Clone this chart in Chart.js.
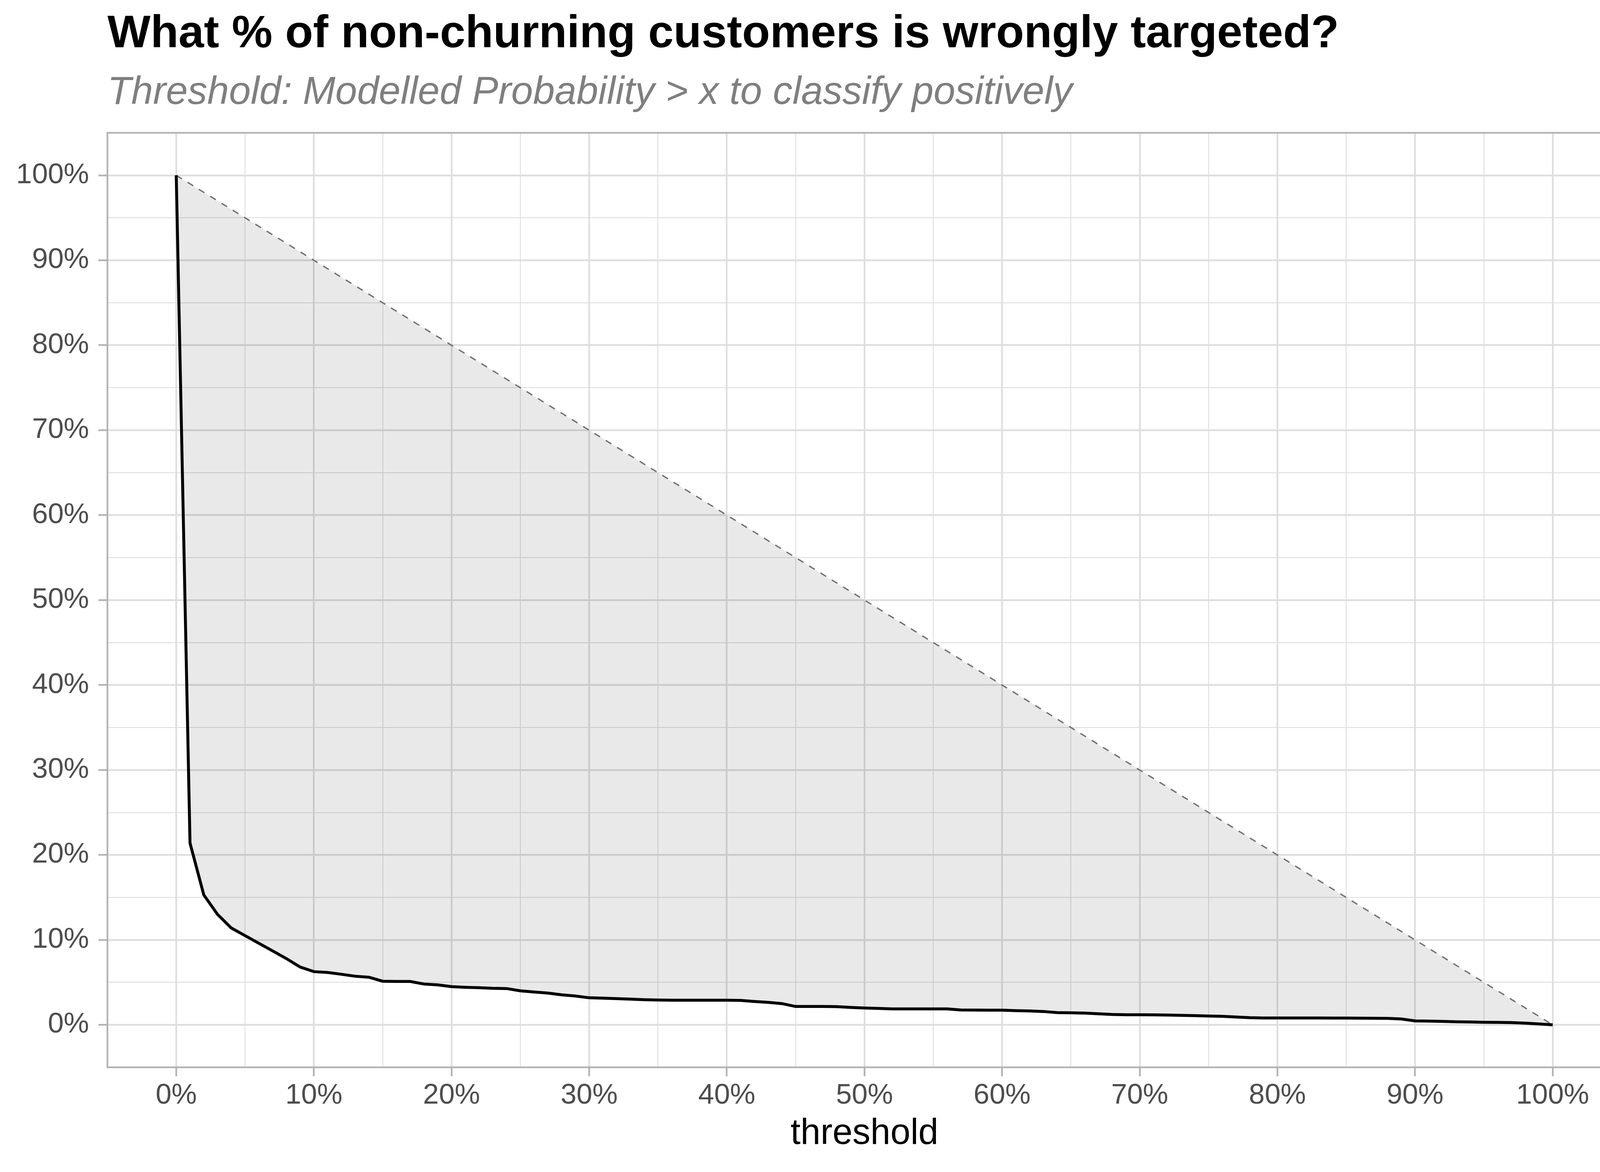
<!DOCTYPE html>
<html>
<head>
<meta charset="utf-8">
<script src="https://cdn.jsdelivr.net/npm/chart.js@4.4.1/dist/chart.umd.min.js"></script>
<style>
  html, body { margin: 0; padding: 0; background: #fff; }
  #wrap { width: 4200px; height: 3000px; }
</style>
</head>
<body>
<div id="wrap"><canvas id="chart" width="4200" height="3000"></canvas></div>
<script>
// threshold (x, in %) and share of non-churners wrongly targeted (y, in %)
const thresholds = [
    0, 1, 2, 3, 4, 5, 6, 7, 8, 9,
    10, 11, 12, 13, 14, 15, 16, 17, 18, 19,
    20, 21, 22, 23, 24, 25, 26, 27, 28, 29,
    30, 31, 32, 33, 34, 35, 36, 37, 38, 39,
    40, 41, 42, 43, 44, 45, 46, 47, 48, 49,
    50, 51, 52, 53, 54, 55, 56, 57, 58, 59,
    60, 61, 62, 63, 64, 65, 66, 67, 68, 69,
    70, 71, 72, 73, 74, 75, 76, 77, 78, 79,
    80, 81, 82, 83, 84, 85, 86, 87, 88, 89,
    90, 91, 92, 93, 94, 95, 96, 97, 98, 99,
    100,
];
const wronglyTargeted = [
    100, 21.4, 15.3, 13.0, 11.4, 10.5, 9.6, 8.7, 7.8, 6.8,
    6.26, 6.16, 5.95, 5.72, 5.6, 5.13, 5.1, 5.1, 4.8, 4.7,
    4.5, 4.42, 4.37, 4.3, 4.27, 4.0, 3.86, 3.74, 3.53, 3.39,
    3.18, 3.14, 3.08, 3.03, 2.96, 2.92, 2.9, 2.9, 2.9, 2.9,
    2.9, 2.88, 2.75, 2.64, 2.5, 2.16, 2.16, 2.16, 2.14, 2.05,
    1.98, 1.93, 1.88, 1.88, 1.88, 1.88, 1.88, 1.75, 1.74, 1.73,
    1.72, 1.67, 1.63, 1.57, 1.44, 1.42, 1.38, 1.3, 1.22, 1.19,
    1.19, 1.17, 1.15, 1.12, 1.08, 1.04, 1.0, 0.92, 0.84, 0.81,
    0.81, 0.81, 0.81, 0.81, 0.8, 0.79, 0.78, 0.77, 0.76, 0.69,
    0.46, 0.44, 0.4, 0.36, 0.33, 0.3, 0.29, 0.27, 0.2, 0.1,
    0,
];
// reference diagonal (random targeting)
const diagonalX = [0, 100];
const diagonalY = [100, 0];

const tickValues = [0, 10, 20, 30, 40, 50, 60, 70, 80, 90, 100];
const tickLabels = ['0%', '10%', '20%', '30%', '40%', '50%', '60%', '70%', '80%', '90%', '100%'];

const FONT = "'Liberation Sans', Arial, sans-serif";
const GRID = '#DEDEDE';
const FRAME = '#B3B3B3';
const AXIS_TEXT = '#4D4D4D';
const NONE = 'rgba(0,0,0,0)';

const tickOf = (ctx) => (ctx && ctx.tick ? ctx.tick.value : null);
const isMajor = (v) => tickValues.includes(v);
const isEdge = (v) => v === null || v < 0 || v > 100;

const gridColor = (ctx) => (isEdge(tickOf(ctx)) ? NONE : GRID);
const gridWidth = (ctx) => (isMajor(tickOf(ctx)) ? 4.4 : 2.2);
const tickColor = (ctx) => (isMajor(tickOf(ctx)) ? FRAME : NONE);
const pctLabel = (v) => {
    const i = tickValues.indexOf(v);
    return i >= 0 ? tickLabels[i] : '';
};

// ggplot-like panel frame on all four sides
const panelBorder = {
    id: 'panelBorder',
    afterDraw(chart) {
        const { ctx, chartArea: a } = chart;
        ctx.save();
        ctx.strokeStyle = FRAME;
        ctx.lineWidth = 4.4;
        ctx.strokeRect(a.left, a.top, a.right - a.left, a.bottom - a.top);
        ctx.restore();
    },
};

const axisCommon = (padding) => ({
    type: 'linear',
    min: -5,
    max: 105,
    border: { display: false },
    grid: {
        color: gridColor,
        lineWidth: gridWidth,
        drawTicks: true,
        tickLength: 23,
        tickColor: tickColor,
        tickWidth: 4.4,
    },
    ticks: {
        stepSize: 5,
        autoSkip: false,
        maxRotation: 0,
        padding: padding,
        color: AXIS_TEXT,
        font: { family: FONT, size: 73 },
        callback: pctLabel,
    },
});

const xScale = axisCommon(6);
xScale.title = {
    display: true,
    text: 'threshold',
    color: '#000000',
    font: { family: FONT, size: 92 },
    padding: { top: 0, bottom: 42 },
};
xScale.afterFit = (s) => { s.height = 268; };

const yScale = axisCommon(24);
yScale.afterFit = (s) => { s.width = 275; };

new Chart(document.getElementById('chart'), {
    type: 'line',
    data: {
        datasets: [
            {
                label: 'wrongly targeted',
                data: thresholds.map((x, i) => ({ x, y: wronglyTargeted[i] })),
                borderColor: '#000000',
                borderWidth: 7.5,
                backgroundColor: 'rgba(0,0,0,0.087)',
                fill: 1,
                pointRadius: 0,
                tension: 0,
            },
            {
                label: 'diagonal',
                data: diagonalX.map((x, i) => ({ x, y: diagonalY[i] })),
                borderColor: '#777777',
                borderWidth: 3.5,
                borderDash: [17, 17],
                fill: false,
                pointRadius: 0,
                tension: 0,
            },
        ],
    },
    options: {
        responsive: false,
        animation: false,
        devicePixelRatio: 1,
        events: [],
        layout: { padding: { left: 0, right: 49, top: 0, bottom: 0 } },
        scales: { x: xScale, y: yScale },
        plugins: {
            legend: { display: false },
            tooltip: { enabled: false },
            title: {
                display: true,
                fullSize: false,
                align: 'start',
                text: 'What % of non-churning customers is wrongly targeted?',
                color: '#000000',
                font: { family: FONT, size: 117, weight: 'bold', lineHeight: 1 },
                padding: { top: 30, bottom: 0 },
            },
            subtitle: {
                display: true,
                fullSize: false,
                align: 'start',
                text: 'Threshold: Modelled Probability > x to classify positively',
                color: '#7F7F7F',
                font: { family: FONT, size: 100, style: 'italic', lineHeight: 1 },
                padding: { top: 41, bottom: 52 },
            },
        },
    },
    plugins: [panelBorder],
});
</script>
</body>
</html>
